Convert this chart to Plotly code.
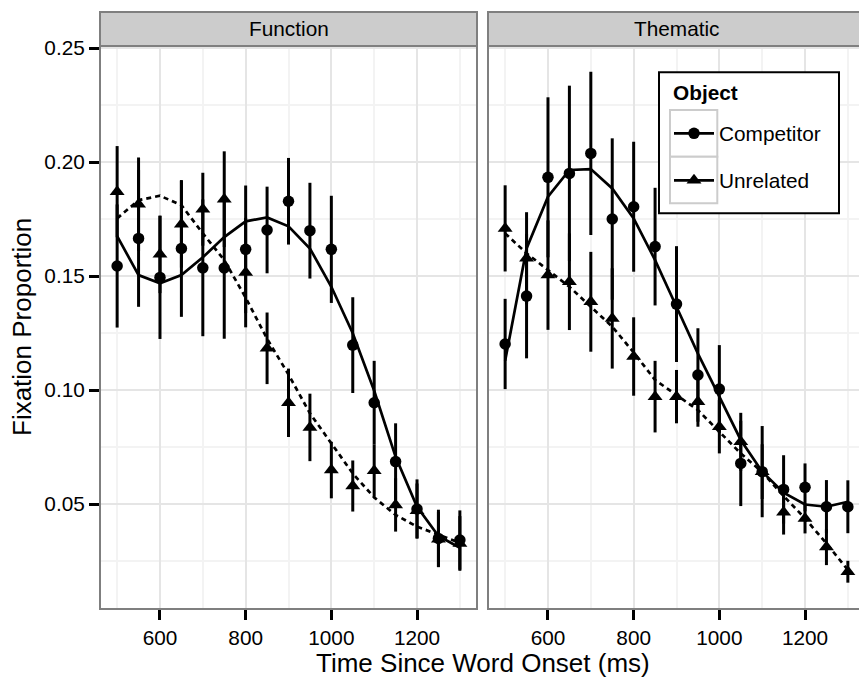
import plotly.graph_objects as go

# ---------------- data ----------------
times = [500, 550, 600, 650, 700, 750, 800, 850, 900, 950, 1000, 1050, 1100, 1150, 1200, 1250, 1300]

fn_comp_mean = [0.1544, 0.1665, 0.1494, 0.1621, 0.1536, 0.1535, 0.1617, 0.1702, 0.1828, 0.1699, 0.1617,
                0.1197, 0.0944, 0.0686, 0.0478, 0.0349, 0.0342]
fn_comp_se = [0.027, 0.030, 0.027, 0.030, 0.030, 0.031, 0.028, 0.019, 0.019, 0.021, 0.0235,
              0.021, 0.0184, 0.0168, 0.013, 0.0126, 0.013]
fn_unrel_mean = [0.1870, 0.1815, 0.1595, 0.1727, 0.1793, 0.1837, 0.1515, 0.1183, 0.0944, 0.0836, 0.0649,
                 0.0579, 0.0646, 0.0496, 0.0470, 0.0345, 0.0327]
fn_unrel_se = [0.020, 0.0205, 0.017, 0.019, 0.016, 0.021, 0.024, 0.0157, 0.015, 0.0148, 0.0124,
               0.0112, 0.0114, 0.0117, 0.012, 0.012, 0.012]
fn_comp_fit = [0.1675, 0.1504, 0.1468, 0.1504, 0.1582, 0.1671, 0.1740, 0.1757, 0.1718, 0.1621, 0.1453,
               0.1249, 0.0997, 0.0707, 0.0488, 0.0360, 0.0308]
fn_unrel_fit = [0.1753, 0.1833, 0.1852, 0.1811, 0.1687, 0.1570, 0.1405, 0.1225, 0.1068, 0.0898, 0.0766,
                0.0634, 0.0529, 0.0452, 0.0401, 0.0365, 0.0330]

th_comp_mean = [0.1202, 0.1412, 0.1933, 0.1950, 0.2038, 0.1750, 0.1804, 0.1629, 0.1377, 0.1066, 0.1004,
                0.0678, 0.0642, 0.0564, 0.0573, 0.0488, 0.0488]
th_comp_se = [0.0198, 0.0273, 0.0351, 0.0385, 0.0358, 0.0354, 0.0285, 0.0258, 0.0254, 0.0205, 0.0193,
              0.0187, 0.020, 0.015, 0.0105, 0.0117, 0.0116]
th_unrel_mean = [0.1709, 0.1578, 0.1504, 0.1475, 0.1387, 0.1314, 0.1147, 0.0971, 0.0971, 0.0949, 0.0839,
                 0.0773, 0.0642, 0.0464, 0.0437, 0.0311, 0.0203]
th_unrel_se = [0.0189, 0.0202, 0.024, 0.0212, 0.0219, 0.022, 0.0172, 0.0157, 0.0117, 0.011, 0.0117,
               0.0127, 0.012, 0.0098, 0.0066, 0.0079, 0.0048]
th_comp_fit = [0.1128, 0.1621, 0.1848, 0.1965, 0.1969, 0.1884, 0.1753, 0.1570, 0.1365, 0.1160, 0.0971,
               0.0781, 0.0642, 0.0550, 0.0498, 0.0488, 0.0510]
th_unrel_fit = [0.1687, 0.1600, 0.1526, 0.1453, 0.1365, 0.1278, 0.1165, 0.1044, 0.0978, 0.0912, 0.0817,
                0.0722, 0.0640, 0.0535, 0.0437, 0.0327, 0.0211]

panels = ["Function", "Thematic"]
series = ["Competitor", "Unrelated"]
legend_title = "Object"
x_ticks = [600, 800, 1000, 1200]
x_minor = [500, 700, 900, 1100, 1300]
y_ticks = [0.05, 0.10, 0.15, 0.20, 0.25]
y_minor = [0.025, 0.075, 0.125, 0.175, 0.225]

# ---------------- geometry ----------------
W, H = 859, 678
ML, MR, MT, MB = 100, 0, 46, 69
PW = W - ML - MR
PH = H - MT - MB


def fx(p):
    return (p - ML) / PW


def fy(p):
    return (H - MB - p) / PH


FONT = "Liberation Sans, Arial, Helvetica, sans-serif"
SMALL = 20.8
BIG = 26

fig = go.Figure()

data = {
    "Function": [(fn_comp_mean, fn_comp_se, fn_comp_fit), (fn_unrel_mean, fn_unrel_se, fn_unrel_fit)],
    "Thematic": [(th_comp_mean, th_comp_se, th_comp_fit), (th_unrel_mean, th_unrel_se, th_unrel_fit)],
}
symbols = {"Competitor": "circle", "Unrelated": "triangle-up"}
msize = {"Competitor": 11.5, "Unrelated": 13}
dashes = {"Competitor": "solid", "Unrelated": "5px,4px"}

for pi, panel in enumerate(panels):
    xa = "x" if pi == 0 else "x2"
    ya = "y" if pi == 0 else "y2"
    for si, s in enumerate(series):
        mean, se, fit = data[panel][si]
        fig.add_trace(go.Scatter(
            x=times, y=fit, mode="lines", xaxis=xa, yaxis=ya, showlegend=False,
            line=dict(color="black", width=2.7, dash=dashes[s]), hoverinfo="skip"))
        fig.add_trace(go.Scatter(
            x=times, y=mean, mode="markers", xaxis=xa, yaxis=ya, showlegend=False,
            marker=dict(symbol=symbols[s], size=msize[s], color="black"),
            error_y=dict(type="data", array=se, visible=True, color="black", thickness=3, width=0)))

# legend-only traces
for si, s in enumerate(series):
    fig.add_trace(go.Scatter(
        x=[None], y=[None], mode="lines+markers", name=s, legendgroup=s,
        line=dict(color="black", width=2.7),
        marker=dict(symbol=symbols[s], size=msize[s], color="black")))

axis_common = dict(
    showline=False, zeroline=False, showgrid=True, gridcolor="#E5E5E5", gridwidth=1.8,
    ticklen=10, tickwidth=2.5, tickcolor="black",
    tickfont=dict(family=FONT, size=SMALL, color="black"),
)
minor = dict(showgrid=True, gridcolor="#F3F3F3", gridwidth=1.5, ticks="")

fig.update_layout(
    width=W, height=H,
    margin=dict(l=ML, r=MR, t=MT, b=MB, pad=0),
    paper_bgcolor="white", plot_bgcolor="white",
    font=dict(family=FONT, size=SMALL, color="black"),
    xaxis=dict(domain=[0, fx(477)], range=[460, 1340], tickvals=x_ticks, anchor="y", ticks="outside",
               minor=dict(tickvals=x_minor, **minor), **axis_common),
    xaxis2=dict(domain=[fx(488), 1], range=[460, 460 + (W - 488) * 880 / 377], tickvals=x_ticks,
                anchor="y2", ticks="outside",
                minor=dict(tickvals=x_minor, **minor), **axis_common),
    yaxis=dict(domain=[0, 1], range=[0.00395, 0.2509], tickvals=y_ticks, tickformat=".2f", anchor="x",
               ticks="outside", minor=dict(tickvals=y_minor, **minor), **axis_common),
    yaxis2=dict(domain=[0, 1], range=[0.00395, 0.2509], tickvals=y_ticks, anchor="x2", matches="y",
                showticklabels=False, ticks="",
                minor=dict(tickvals=y_minor, **minor), **axis_common),
    showlegend=True,
    legend=dict(
        x=fx(669), y=fy(113.3), xanchor="left", yanchor="top",
        bgcolor="rgba(0,0,0,0)", bordercolor="rgba(0,0,0,0)", borderwidth=0,
        font=dict(family=FONT, size=SMALL, color="black"),
        traceorder="grouped", tracegroupgap=17, itemwidth=40,
    ),
)

shapes = []
# panel borders and strips
for x0, x1 in [(100, 477), (488, 865)]:
    shapes.append(dict(type="rect", xref="paper", yref="paper", x0=fx(x0), x1=fx(x1), y0=fy(609), y1=fy(46),
                       line=dict(color="#7F7F7F", width=2), fillcolor="rgba(0,0,0,0)", layer="above"))
    shapes.append(dict(type="rect", xref="paper", yref="paper", x0=fx(x0), x1=fx(x1), y0=fy(46), y1=fy(12),
                       line=dict(color="#7F7F7F", width=2), fillcolor="#CCCCCC", layer="above"))
# legend box and keys
shapes.append(dict(type="rect", xref="paper", yref="paper", x0=fx(659), x1=fx(839), y0=fy(213.3), y1=fy(72.3),
                   line=dict(color="black", width=2), fillcolor="white", layer="above"))
for ky0, ky1 in [(110, 156.7), (156.7, 203.3)]:
    shapes.append(dict(type="rect", xref="paper", yref="paper", x0=fx(670), x1=fx(717.3), y0=fy(ky1), y1=fy(ky0),
                       line=dict(color="#CCCCCC", width=2), fillcolor="white", layer="above"))

annotations = []
for x0, x1, name in [(100, 477, panels[0]), (488, 865, panels[1])]:
    annotations.append(dict(text=name, xref="paper", yref="paper", x=fx((x0 + x1) / 2), y=fy(28.5),
                            xanchor="center", yanchor="middle", showarrow=False,
                            font=dict(family=FONT, size=SMALL, color="black")))
annotations.append(dict(text="<b>" + legend_title + "</b>", xref="paper", yref="paper", x=fx(671), y=fy(92),
                        xanchor="left", yanchor="middle", showarrow=False,
                        font=dict(family=FONT, size=SMALL, color="black")))
annotations.append(dict(text="Time Since Word Onset (ms)", xref="paper", yref="paper", x=fx(482.5), y=fy(663),
                        xanchor="center", yanchor="middle", showarrow=False,
                        font=dict(family=FONT, size=BIG, color="black")))
annotations.append(dict(text="Fixation Proportion", xref="paper", yref="paper", x=fx(22), y=fy(327),
                        xanchor="center", yanchor="middle", showarrow=False, textangle=-90,
                        font=dict(family=FONT, size=BIG, color="black")))

fig.update_layout(shapes=shapes, annotations=annotations)
fig.write_html("out.html")
